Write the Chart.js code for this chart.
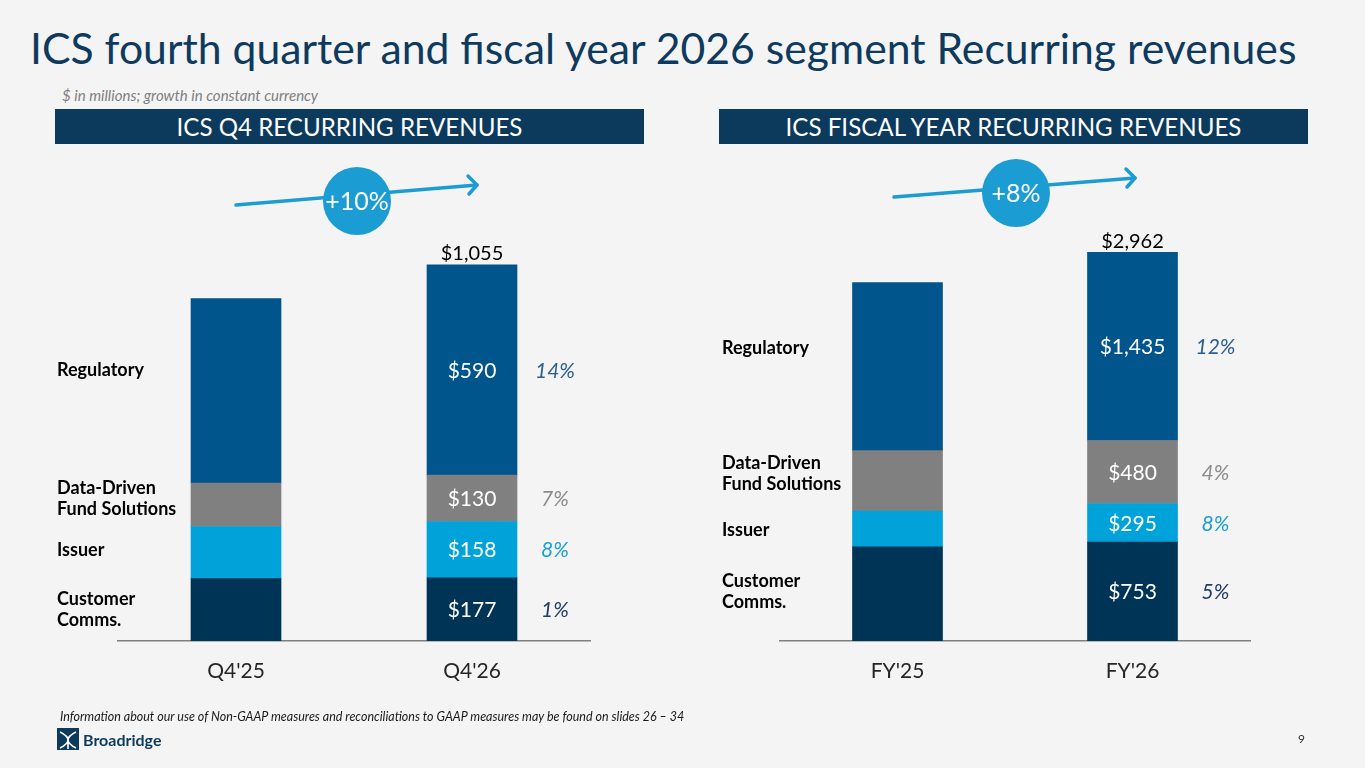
<!DOCTYPE html>
<html>
<head>
<meta charset="utf-8">
<script src="https://cdn.jsdelivr.net/npm/chart.js@4/dist/chart.umd.min.js"></script>
<style>
  html, body { margin: 0; padding: 0; }
  body { width: 1365px; height: 768px; background: #f4f4f4; position: relative; overflow: hidden; font-family: Lato, "Open Sans", sans-serif; }
  .abs { position: absolute; white-space: nowrap; }
  #title { left: 30px; top: 21px; color: #0d3a5e; font-size: 44px; line-height: 54px; }
  #subtitle { left: 62px; top: 86px; color: #7f7f7f; font-size: 14px; font-style: italic; }
  .hdr { position: absolute; top: 109px; height: 35px; background: #0b3a5c; color: #fff; display: flex; align-items: center; justify-content: center; font-size: 25px; }
  #hdr1 { left: 55px; width: 589px; }
  #hdr2 { left: 719px; width: 589px; }
  canvas { position: absolute; }
  #c1 { left: 0px; top: 160px; }
  #c2 { left: 683px; top: 160px; }
  #foot { left: 60px; top: 709px; font-size: 12.5px; font-style: italic; color: #1a1a1a; }
  #page { left: 1298px; top: 731px; font-size: 12px; color: #333; }
  #logo { left: 57px; top: 727px; }
  svg.ov { position: absolute; left: 0; top: 0; }
</style>
</head>
<body>
<div id="title" class="abs">ICS fourth quarter and fiscal year 2026 segment Recurring revenues</div>
<div id="subtitle" class="abs">$ in millions; growth in constant currency</div>
<div id="hdr1" class="hdr"><span>ICS Q4 RECURRING REVENUES</span></div>
<div id="hdr2" class="hdr"><span>ICS FISCAL YEAR RECURRING REVENUES</span></div>

<canvas id="c1" width="683" height="540" style="width:683px;height:540px"></canvas>
<canvas id="c2" width="682" height="540" style="width:682px;height:540px"></canvas>

<svg class="ov" width="1365" height="768">
  <g stroke="#1b9cd3" stroke-width="3.5" fill="none" stroke-linecap="round" stroke-linejoin="round">
    <line x1="236" y1="205" x2="477" y2="185"/>
    <polyline points="468,176 477,185 469,194"/>
    <line x1="894" y1="197" x2="1135" y2="178"/>
    <polyline points="1126,169 1135,178 1127,187"/>
  </g>
  <circle cx="357" cy="201" r="34" fill="#1b9cd3"/>
  <text x="357" y="210" fill="#fff" font-family="Lato, 'Open Sans', sans-serif" font-size="25" text-anchor="middle">+10%</text>
  <circle cx="1016" cy="193" r="34" fill="#1b9cd3"/>
  <text x="1016" y="202" fill="#fff" font-family="Lato, 'Open Sans', sans-serif" font-size="25" text-anchor="middle">+8%</text>
</svg>

<div id="foot" class="abs">Information about our use of Non-GAAP measures and reconciliations to GAAP measures may be found on slides 26 – 34</div>
<div id="page" class="abs">9</div>
<svg id="logo" class="abs" width="110" height="26">
  <rect x="0" y="1" width="22" height="22" fill="#0b3a5c"/>
  <path d="M3 5 Q11 9 11 13 Q11 17 3 21 M19 5 Q11 9 11 13 Q11 17 19 21 M11 13 L11 22" stroke="#fff" stroke-width="1.6" fill="none"/>
  <text x="26" y="19" fill="#0b3a5c" font-family="Lato, 'Open Sans', sans-serif" font-weight="700" font-size="16">Broadridge</text>
</svg>

<script>
// ---------- DATA ----------
const q4Categories = ["Q4'25", "Q4'26"];
const fyCategories = ["FY'25", "FY'26"];
const segmentNames = [["Customer", "Comms."], ["Issuer"], ["Data-Driven", "Fund Solutions"], ["Regulatory"]];

const q4CustomerComms = [175, 177];
const q4Issuer = [146, 158];
const q4DataDriven = [122, 130];
const q4Regulatory = [517, 590];
const q4Growth = ["1%", "8%", "7%", "14%"];
const q4TotalLabels = ["", "$1,055"];

const fyCustomerComms = [717, 753];
const fyIssuer = [273, 295];
const fyDataDriven = [461, 480];
const fyRegulatory = [1281, 1435];
const fyGrowth = ["5%", "8%", "4%", "12%"];
const fyTotalLabels = ["", "$2,962"];

// ---------- STYLE ----------
const segColors = ["#003457", "#00a3d9", "#808080", "#00558c"];
const growthColors = ["#1f3f66", "#1aa0d6", "#8c8c8c", "#2c5f8f"];
const FONT = "Lato, 'Open Sans', sans-serif";

function fitWidth(el, target) {
  let fs = parseFloat(getComputedStyle(el).fontSize);
  for (let i = 0; i < 4; i++) {
    const w = el.getBoundingClientRect().width;
    fs = fs * target / w;
    el.style.fontSize = fs + "px";
  }
}
fitWidth(document.getElementById('title'), 1266);
fitWidth(document.getElementById('subtitle'), 256);
fitWidth(document.querySelector('#hdr1 span'), 346);
fitWidth(document.querySelector('#hdr2 span'), 456);

function fmt(v) { return "$" + v.toLocaleString('en-US'); }

const labelPlugin = {
  id: 'segLabels',
  afterDatasetsDraw(chart, args, opts) {
    const ctx = chart.ctx;
    const last = chart.data.labels.length - 1;
    ctx.save();
    chart.data.datasets.forEach((ds, i) => {
      const meta = chart.getDatasetMeta(i);
      const el = meta.data[last];
      const p = el.getProps(['x', 'y', 'base', 'width'], true);
      const cy = (p.y + p.base) / 2;
      // value inside bar
      ctx.fillStyle = '#ffffff';
      ctx.font = '21px ' + FONT;
      ctx.textAlign = 'center';
      ctx.textBaseline = 'middle';
      ctx.fillText(fmt(ds.data[last]), p.x, cy + 1);
      // growth
      ctx.fillStyle = growthColors[i];
      ctx.font = 'italic 21px ' + FONT;
      ctx.fillText(opts.growth[i], p.x + p.width / 2 + opts.growthOffset, cy + 1);
      // series name
      ctx.fillStyle = '#000000';
      ctx.font = 'bold 18px ' + FONT;
      ctx.textAlign = 'left';
      const lines = segmentNames[i];
      const lh = 21;
      lines.forEach((ln, k) => {
        ctx.fillText(ln, opts.nameX, cy + (opts.nameDy[i] || 0) + (k - (lines.length - 1) / 2) * lh);
      });
    });
    // totals
    const topMeta = chart.getDatasetMeta(chart.data.datasets.length - 1);
    opts.totals.forEach((t, j) => {
      if (!t) return;
      const el = topMeta.data[j];
      ctx.fillStyle = '#000000';
      ctx.font = '20px ' + FONT;
      ctx.textAlign = 'center';
      ctx.textBaseline = 'bottom';
      ctx.fillText(t, el.x, el.y - 1);
    });
    ctx.restore();
  }
};

function makeChart(id, cats, series, growth, totals, yMax, pad, nameX, nameDy) {
  return new Chart(document.getElementById(id), {
    type: 'bar',
    data: {
      labels: cats,
      datasets: series.map((d, i) => ({
        data: d,
        backgroundColor: segColors[i],
        borderWidth: 0,
        barThickness: 90
      }))
    },
    options: {
      responsive: false,
      animation: false,
      layout: { padding: pad },
      plugins: {
        legend: { display: false },
        tooltip: { enabled: false },
        segLabels: { growth: growth, totals: totals, growthOffset: 38, nameX: nameX, nameDy: nameDy }
      },
      scales: {
        x: {
          stacked: true,
          grid: { display: false, drawTicks: false },
          border: { display: true, color: '#7f7f7f', width: 1.5 },
          ticks: { color: '#262626', font: { family: FONT, size: 21 }, padding: 18 },
          afterFit: (s) => { s.height = 59; }
        },
        y: {
          stacked: true, display: false, min: 0, max: yMax
        }
      }
    },
    plugins: [labelPlugin]
  });
}

makeChart('c1', q4Categories, [q4CustomerComms, q4Issuer, q4DataDriven, q4Regulatory],
  q4Growth, q4TotalLabels, 1200, { left: 118, right: 93, top: 53, bottom: 0 }, 57, [0, 0, 0, 0]);
makeChart('c2', fyCategories, [fyCustomerComms, fyIssuer, fyDataDriven, fyRegulatory],
  fyGrowth, fyTotalLabels, 3300, { left: 97, right: 115, top: 48, bottom: 0 }, 39, [0, 7, 2, 2]);
</script>
</body>
</html>
